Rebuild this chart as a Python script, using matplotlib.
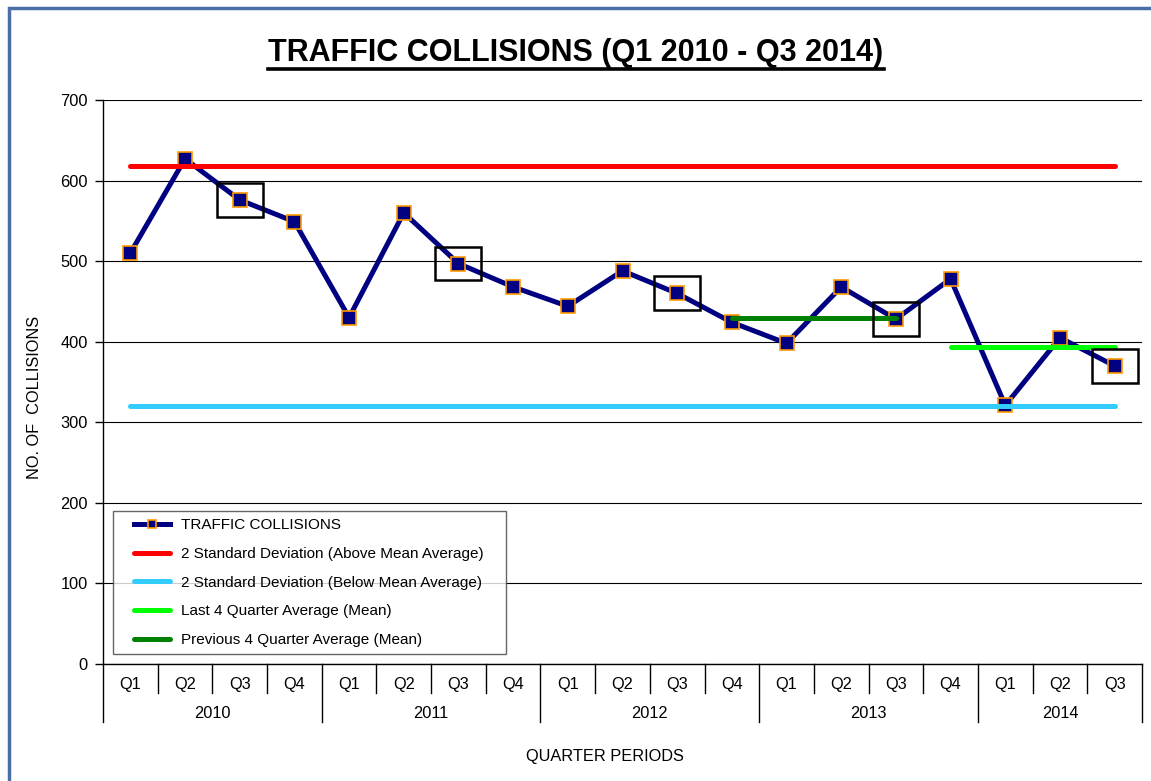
import numpy as np
import matplotlib
matplotlib.use("Agg")
import matplotlib.pyplot as plt
from matplotlib.patches import Rectangle
from matplotlib.lines import Line2D
from matplotlib.legend_handler import HandlerLine2D

plt.rcParams["font.family"] = ["Liberation Sans", "DejaVu Sans"]

# --- data ---
years = ["2010", "2011", "2012", "2013", "2014"]
quarters = ["Q1", "Q2", "Q3", "Q4"] * 4 + ["Q1", "Q2", "Q3"]
collisions = [510, 627, 576, 549,
              430, 560, 497, 468,
              444, 488, 460, 424,
              398, 468, 428, 478,
              321, 405, 370]
upper_2sd = 618
lower_2sd = 320
prev4_avg = 429          # 2012 Q4 .. 2013 Q3
prev4_span = (11, 14)
last4_avg = 393          # 2013 Q4 .. 2014 Q3
last4_span = (15, 18)
boxed = [2, 6, 10, 14, 18]   # every Q3 is highlighted with a box

NAVY = "#000080"
LW = 3.6
FS = 11.8

fig = plt.figure(figsize=(11.51, 7.81), dpi=100)
ax = fig.add_axes([103 / 1151, 1 - 664 / 781, 1039 / 1151, 564 / 781])

x = np.arange(len(collisions))
ax.plot(x, collisions, color=NAVY, lw=LW, marker="s", ms=10, mfc=NAVY,
        mec="#FF9900", mew=1.2, zorder=3, label="TRAFFIC COLLISIONS")
kw = dict(lw=LW, solid_capstyle="round", zorder=4)
ax.plot([x[0], x[-1]], [upper_2sd] * 2, color="#FF0000",
        label="2 Standard Deviation (Above Mean Average)", **kw)
ax.plot([x[0], x[-1]], [lower_2sd] * 2, color="#33CCFF",
        label="2 Standard Deviation (Below Mean Average)", **kw)
ax.plot(last4_span, [last4_avg] * 2, color="#00FF00",
        label="Last 4 Quarter Average (Mean)", **kw)
ax.plot(prev4_span, [prev4_avg] * 2, color="#008000",
        label="Previous 4 Quarter Average (Mean)", **kw)

for i in boxed:
    ax.add_patch(Rectangle((i - 0.42, collisions[i] - 21), 0.84, 42, fill=False,
                           ec="black", lw=1.8, zorder=5))

ax.set_xlim(-0.5, len(collisions) - 0.5)
ax.set_ylim(0, 700)
ax.set_yticks(range(0, 701, 100))
ax.yaxis.grid(True, color="black", lw=0.8)
ax.set_axisbelow(True)
for s in ["top", "right"]:
    ax.spines[s].set_visible(False)
ax.spines["left"].set_linewidth(1.0)
ax.spines["bottom"].set_linewidth(1.0)
ax.tick_params(axis="y", length=6, width=1, pad=5, labelsize=FS)
ax.set_xticks([])

# two-level category axis: quarters, then years
tr = ax.get_xaxis_transform()
q_sep, y_sep = -29 / 564, -58 / 564
for i, q in enumerate(quarters):
    ax.text(i, -21 / 564, q, transform=tr, ha="center", va="center", fontsize=FS)
for b in np.arange(len(collisions) + 1) - 0.5:
    year_edge = (b + 0.5) % 4 == 0 or b == len(collisions) - 0.5
    ax.plot([b, b], [0, y_sep if year_edge else q_sep], transform=tr,
            color="black", lw=1.0, clip_on=False)
for k, yr in enumerate(years):
    lo = 4 * k - 0.5
    hi = min(4 * k + 3.5, len(collisions) - 0.5)
    ax.text((lo + hi) / 2, -49 / 564, yr, transform=tr, ha="center", va="center",
            fontsize=FS)

fig.text(605 / 1151, 1 - 756 / 781, "QUARTER PERIODS", ha="center", va="center",
         fontsize=FS)
fig.text(35 / 1151, 1 - 397 / 781, "NO. OF  COLLISIONS", rotation=90,
         ha="center", va="center", fontsize=FS)

title = fig.text(576 / 1151, 1 - 53 / 781, "TRAFFIC COLLISIONS (Q1 2010 - Q3 2014)",
                 ha="center", va="center", fontsize=22, fontweight="bold")

leg = ax.legend(loc="lower left", bbox_to_anchor=(10 / 1039, 10 / 564, 393 / 1039, 0.2),
                mode="expand", borderaxespad=0, fontsize=11, frameon=True,
                fancybox=False, edgecolor="#404040", handlelength=3.27,
                handletextpad=0.72, labelspacing=0.965, borderpad=0.45,
                handler_map={Line2D: HandlerLine2D(xpad=0.92)})
leg.get_frame().set_linewidth(1.0)
leg.legend_handles[0].set_markersize(6)

# frame around the whole picture (cut off at the right and bottom)
fig.patches.append(Rectangle((8.5 / 1151, -0.2), 2, 1.2 - 7.5 / 781,
                             transform=fig.transFigure, fill=False,
                             ec="#4A6FA5", lw=2.5))

# underline the title
fig.canvas.draw()
bb = title.get_window_extent().transformed(fig.transFigure.inverted())
uy = 1 - 69 / 781
fig.add_artist(Line2D([bb.x0, bb.x1], [uy, uy], transform=fig.transFigure,
                      color="black", lw=2.6))

fig.savefig("out.png", dpi=100)
